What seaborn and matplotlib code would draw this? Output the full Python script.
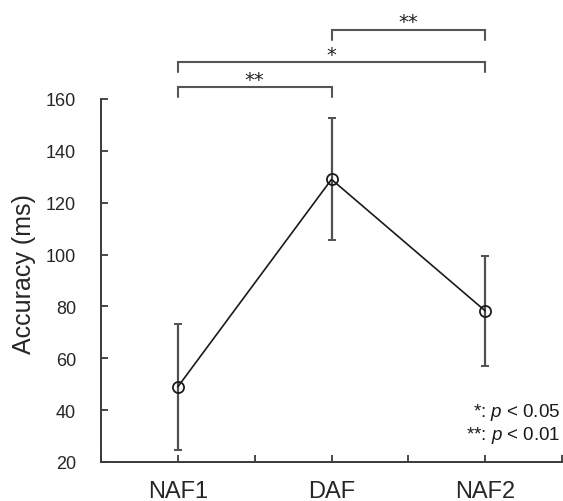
import matplotlib
matplotlib.use("Agg")
import matplotlib.pyplot as plt
import seaborn as sns
import pandas as pd

conditions = ["NAF1", "DAF", "NAF2"]
means = [49.0, 129.0, 78.3]
errors = [24.3, 23.5, 21.2]

# significance brackets: (left, right, height, label)
bracket_pairs = [(0, 1), (0, 2), (1, 2)]
bracket_heights = [164.6, 174.3, 186.8]
bracket_labels = ["**", "*", "**"]

legend_lines = ["*: $p$ < 0.05", "**: $p$ < 0.01"]

sns.set_style("ticks")
plt.rcParams["font.family"] = ["Liberation Sans", "DejaVu Sans"]
plt.rcParams["mathtext.fontset"] = "custom"
plt.rcParams["mathtext.it"] = "Liberation Sans:italic"
plt.rcParams["mathtext.rm"] = "Liberation Sans"

df = pd.DataFrame({"cond": conditions, "acc": means, "err": errors})
df["pos"] = range(len(df))

fig = plt.figure(figsize=(5.63, 5.02), dpi=100)
ax = fig.add_axes([101 / 563, 39 / 502, 461 / 563, 363 / 502])

dark = "#3a3a3a"
ax.errorbar(df["pos"], df["acc"], yerr=df["err"], fmt="none",
            ecolor="#505050", elinewidth=1.6, capsize=3, capthick=1.4, zorder=1)
sns.lineplot(data=df, x="pos", y="acc", ax=ax, color="#1a1a1a", linewidth=1.2,
             marker="o", markersize=8, markerfacecolor="none",
             markeredgecolor="#1a1a1a", markeredgewidth=1.3, zorder=3)

ax.set_xlim(-0.5, 2.5)
ax.set_ylim(20, 160)
ax.set_yticks(range(20, 161, 20))
ax.set_xticks([-0.5, 0, 0.5, 1, 1.5, 2, 2.5])
ax.set_xticklabels(["", "NAF1", "", "DAF", "", "NAF2", ""])
ax.tick_params(axis="y", direction="in", length=5, width=1.3, color=dark,
               labelsize=13, pad=18)
ax.tick_params(axis="x", direction="in", length=5, width=1.3, color=dark,
               labelsize=17, pad=13)
ax.set_xlabel("")
ax.set_ylabel("Accuracy (ms)", fontsize=18)
ax.yaxis.set_label_coords(-0.142, 0.52)

sns.despine(ax=ax)
for side in ["left", "bottom"]:
    ax.spines[side].set_linewidth(1.4)
    ax.spines[side].set_color(dark)

# brackets above the plot
for (a, b), h, lab in zip(bracket_pairs, bracket_heights, bracket_labels):
    ax.plot([a, a, b, b], [h - 4, h, h, h - 4], color="#555555", lw=1.5,
            clip_on=False, solid_joinstyle="miter")
    ax.text((a + b) / 2, h + 0.8, lab, ha="center", va="baseline",
            fontsize=14, family="DejaVu Sans", color="#222222", clip_on=False)

for i, line in enumerate(legend_lines):
    ax.text(0.997, 0.14 - i * 0.063, line, transform=ax.transAxes,
            ha="right", va="center", fontsize=13.5, color="#1a1a1a")

fig.savefig("out.png", dpi=100)
